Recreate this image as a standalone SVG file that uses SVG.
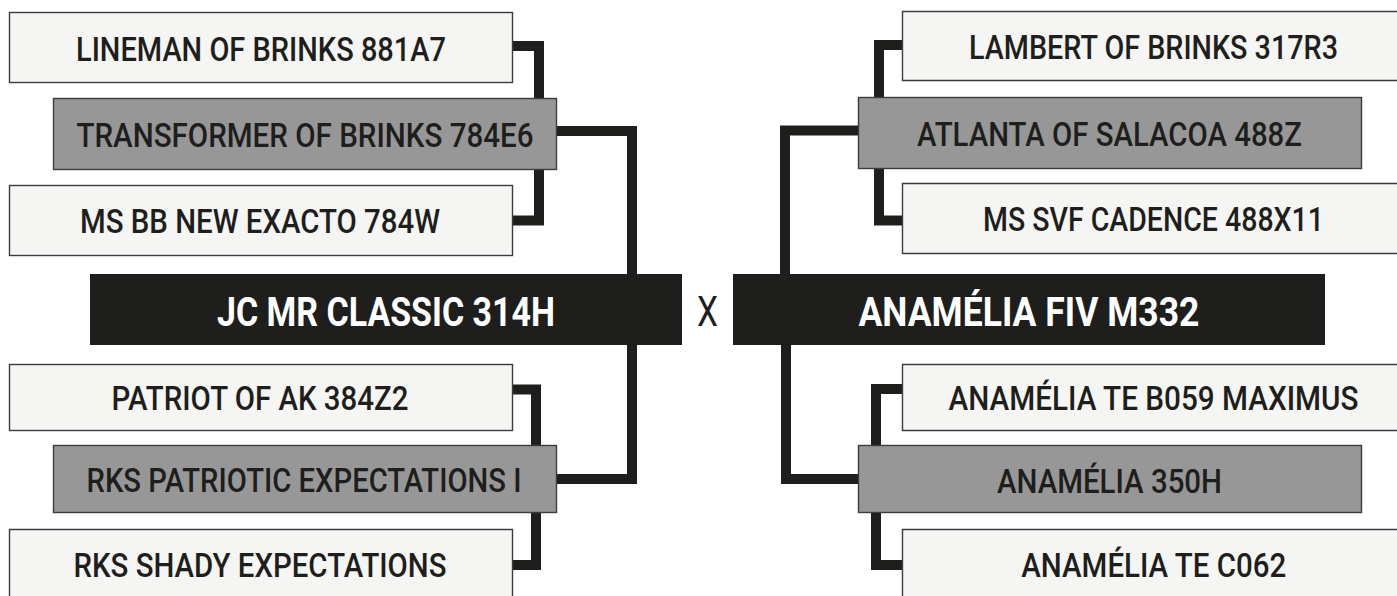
<svg xmlns="http://www.w3.org/2000/svg" width="1397" height="596" viewBox="0 0 1397 596">
<style>
.light{fill:#f5f5f3;stroke:#3c3c3c;stroke-width:1.4}
.lightfill{fill:#f5f5f3}
.edge{fill:none;stroke:#3c3c3c;stroke-width:1.4}
.mid{fill:#979797;stroke:#3c3c3c;stroke-width:1.4}
.dark{fill:#1e1e1c}
.lbl{font-family:Roboto,"Liberation Sans",sans-serif;font-weight:500;font-size:33px;fill:#1e1e1c;text-anchor:middle}
.main{font-family:Roboto,"Liberation Sans",sans-serif;font-weight:700;font-size:41px;fill:#ffffff;text-anchor:middle}
.x{font-family:Roboto,"Liberation Sans",sans-serif;font-weight:400;font-size:42px;fill:#1e1e1c;text-anchor:middle}
.conn{fill:none;stroke:#1e1e1c;stroke-width:10;stroke-linejoin:miter;stroke-linecap:butt}
</style>
<rect width="1397" height="596" fill="#ffffff"/>
<g id="connectors">
<path class="conn" d="M512,46 H539 V98"/>
<path class="conn" d="M539,170 V220.5 H512"/>
<path class="conn" d="M556,131 H632 V274"/>
<path class="conn" d="M512,389.5 H536 V445"/>
<path class="conn" d="M536,513 V565 H512"/>
<path class="conn" d="M632,345 V479 H556"/>
<path class="conn" d="M902,45 H879 V97"/>
<path class="conn" d="M879,168 V220.5 H902"/>
<path class="conn" d="M858,130.5 H785 V274"/>
<path class="conn" d="M902,389 H876 V445"/>
<path class="conn" d="M876,513 V565 H902"/>
<path class="conn" d="M786,345 V479 H858"/>
</g>
<g id="n-lineman"><rect class="light" x="9.5" y="12.5" width="503" height="70"/><text class="lbl" x="261" y="61" textLength="370" lengthAdjust="spacingAndGlyphs">LINEMAN OF BRINKS 881A7</text></g>
<g id="n-transformer"><rect class="mid" x="53.5" y="98.5" width="503" height="71"/><text class="lbl" x="305" y="147" textLength="457" lengthAdjust="spacingAndGlyphs">TRANSFORMER OF BRINKS 784E6</text></g>
<g id="n-msbb"><rect class="light" x="9.5" y="185.5" width="503" height="70"/><text class="lbl" x="260" y="233" textLength="360" lengthAdjust="spacingAndGlyphs">MS BB NEW EXACTO 784W</text></g>
<g id="n-jcmr"><rect class="dark" x="90" y="274" width="592" height="71"/><text class="main" x="386" y="326" textLength="338" lengthAdjust="spacingAndGlyphs">JC MR CLASSIC 314H</text></g>
<g id="n-patriot"><rect class="light" x="9.5" y="364.5" width="503" height="66"/><text class="lbl" x="260" y="410" textLength="297" lengthAdjust="spacingAndGlyphs">PATRIOT OF AK 384Z2</text></g>
<g id="n-rkspatriotic"><rect class="mid" x="53.5" y="445.5" width="503" height="67"/><text class="lbl" x="304" y="492" textLength="435" lengthAdjust="spacingAndGlyphs">RKS PATRIOTIC EXPECTATIONS I</text></g>
<g id="n-rksshady"><rect class="lightfill" x="9.5" y="529.5" width="503" height="66.5"/><path class="edge" d="M9.5,596 V529.5 H512.5 V596"/><text class="lbl" x="260" y="577" textLength="373" lengthAdjust="spacingAndGlyphs">RKS SHADY EXPECTATIONS</text></g>
<g id="n-x"><text class="x" x="707.5" y="326" textLength="21" lengthAdjust="spacingAndGlyphs">X</text></g>
<g id="n-lambert"><rect class="lightfill" x="902.5" y="11.5" width="494.5" height="69"/><path class="edge" d="M1397,11.5 H902.5 V80.5 H1397"/><text class="lbl" x="1153.5" y="59" textLength="369" lengthAdjust="spacingAndGlyphs">LAMBERT OF BRINKS 317R3</text></g>
<g id="n-atlanta"><rect class="mid" x="858.5" y="97.5" width="503" height="71"/><text class="lbl" x="1109.5" y="146" textLength="385" lengthAdjust="spacingAndGlyphs">ATLANTA OF SALACOA 488Z</text></g>
<g id="n-mssvf"><rect class="lightfill" x="902.5" y="183.5" width="494.5" height="70"/><path class="edge" d="M1397,183.5 H902.5 V253.5 H1397"/><text class="lbl" x="1153.5" y="231" textLength="341" lengthAdjust="spacingAndGlyphs">MS SVF CADENCE 488X11</text></g>
<g id="n-anamelia-fiv"><rect class="dark" x="733" y="274" width="592" height="71"/><text class="main" x="1029" y="326" textLength="341" lengthAdjust="spacingAndGlyphs">ANAMÉLIA FIV M332</text></g>
<g id="n-b059"><rect class="lightfill" x="902.5" y="364.5" width="494.5" height="66"/><path class="edge" d="M1397,364.5 H902.5 V430.5 H1397"/><text class="lbl" transform="translate(1153.5,410) scale(0.9,1)" x="0" y="0">ANAMÉLIA TE B059 MAXIMUS</text></g>
<g id="n-350h"><rect class="mid" x="858.5" y="445.5" width="503" height="67"/><text class="lbl" x="1109.5" y="493" textLength="225" lengthAdjust="spacingAndGlyphs">ANAMÉLIA 350H</text></g>
<g id="n-c062"><rect class="lightfill" x="902.5" y="529.5" width="494.5" height="66.5"/><path class="edge" d="M1397,529.5 H902.5 V596"/><text class="lbl" x="1153.8" y="577" textLength="265" lengthAdjust="spacingAndGlyphs">ANAMÉLIA TE C062</text></g>
</svg>
